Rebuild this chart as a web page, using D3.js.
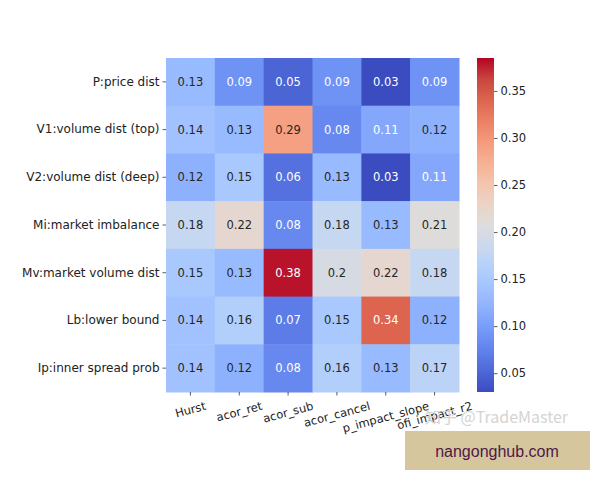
<!DOCTYPE html>
<html>
<head>
<meta charset="utf-8">
<script src="https://cdn.jsdelivr.net/npm/d3@7"></script>
<style>
  body { margin: 0; background: #fff; }
  svg { display: block; font-family: "DejaVu Sans", sans-serif; }
</style>
</head>
<body>
<svg id="chart" width="600" height="480"></svg>
<script>
// row / column labels
var rowLabels = ["P:price dist", "V1:volume dist (top)", "V2:volume dist (deep)",
    "Mi:market imbalance", "Mv:market volume dist", "Lb:lower bound", "Ip:inner spread prob"];
var colLabels = ["Hurst", "acor_ret", "acor_sub", "acor_cancel", "p_impact_slope", "ofi_impact_r2"];

// one array per row
var pVals  = [0.13, 0.09, 0.05, 0.09, 0.03, 0.09];
var v1Vals = [0.14, 0.13, 0.29, 0.08, 0.11, 0.12];
var v2Vals = [0.12, 0.15, 0.06, 0.13, 0.03, 0.11];
var miVals = [0.18, 0.22, 0.08, 0.18, 0.13, 0.21];
var mvVals = [0.15, 0.13, 0.38, 0.2, 0.22, 0.18];
var lbVals = [0.14, 0.16, 0.07, 0.15, 0.34, 0.12];
var ipVals = [0.14, 0.12, 0.08, 0.16, 0.13, 0.17];
var rowValues = [pVals, v1Vals, v2Vals, miVals, mvVals, lbVals, ipVals];

// colorbar limits and ticks
var vmin = 0.03, vmax = 0.385;
var cbTicks = [0.05, 0.10, 0.15, 0.20, 0.25, 0.30, 0.35];

// matplotlib coolwarm approximation
var coolwarmStops = [
    [0.230, 0.299, 0.754], [0.303, 0.406, 0.846], [0.379, 0.508, 0.922],
    [0.458, 0.602, 0.977], [0.554, 0.690, 0.996], [0.636, 0.764, 0.999],
    [0.706, 0.818, 0.980], [0.794, 0.852, 0.934], [0.865, 0.865, 0.865],
    [0.924, 0.828, 0.772], [0.958, 0.769, 0.678], [0.969, 0.692, 0.577],
    [0.958, 0.602, 0.481], [0.923, 0.502, 0.393], [0.866, 0.393, 0.313],
    [0.788, 0.276, 0.238], [0.706, 0.016, 0.150]
].map(function(c) { return d3.rgb(c[0] * 255, c[1] * 255, c[2] * 255); });

var cmap = d3.scaleLinear()
    .domain(coolwarmStops.map(function(d, i) { return i / (coolwarmStops.length - 1); }))
    .range(coolwarmStops)
    .interpolate(d3.interpolateRgb)
    .clamp(true);

var norm = d3.scaleLinear().domain([vmin, vmax]).range([0, 1]).clamp(true);
function colorOf(v) { return cmap(norm(v)); }

function luminance(c) {
    c = d3.rgb(c);
    var ch = [c.r, c.g, c.b].map(function(x) {
        x = x / 255;
        return x <= 0.03928 ? x / 12.92 : Math.pow((x + 0.055) / 1.055, 2.4);
    });
    return 0.2126 * ch[0] + 0.7152 * ch[1] + 0.0722 * ch[2];
}

var fontSize = 11.5;
var font = "DejaVu Sans, sans-serif";
var plotLeft = 166, plotRight = 459, plotTop = 58, plotBottom = 392;

var svg = d3.select("#chart");

var x = d3.scaleBand().domain(colLabels).range([plotLeft, plotRight]);
var y = d3.scaleBand().domain(rowLabels).range([plotTop, plotBottom]);

var cells = [];
rowLabels.forEach(function(r, i) {
    colLabels.forEach(function(c, j) {
        cells.push({ row: r, col: c, value: rowValues[i][j] });
    });
});

var fmt = d3.format(".2~g");

var g = svg.append("g");
g.selectAll("rect.cell")
    .data(cells)
    .enter()
    .append("rect")
    .attr("class", "cell")
    .attr("x", function(d) { return x(d.col); })
    .attr("y", function(d) { return y(d.row); })
    .attr("width", x.bandwidth() + 0.5)
    .attr("height", y.bandwidth() + 0.5)
    .attr("fill", function(d) { return colorOf(d.value); });

g.selectAll("text.annot")
    .data(cells)
    .enter()
    .append("text")
    .attr("class", "annot")
    .attr("x", function(d) { return x(d.col) + x.bandwidth() / 2; })
    .attr("y", function(d) { return y(d.row) + y.bandwidth() / 2; })
    .attr("dy", "0.35em")
    .attr("text-anchor", "middle")
    .style("font-family", font)
    .style("font-size", fontSize + "px")
    .attr("fill", function(d) { return luminance(colorOf(d.value)) > 0.408 ? "#262626" : "#ffffff"; })
    .text(function(d) { return fmt(d.value); });

// y axis
var gy = svg.append("g")
    .attr("transform", "translate(" + plotLeft + ",0)")
    .call(d3.axisLeft(y).tickSize(3.5).tickPadding(3));
gy.select(".domain").remove();
gy.selectAll("text").style("font-family", font).style("font-size", "12px").attr("fill", "#222");
gy.selectAll("line").attr("stroke", "#333").attr("stroke-width", 0.8);

// x axis, labels rotated 15deg, centred on tick
var gx = svg.append("g")
    .attr("transform", "translate(0," + plotBottom + ")")
    .call(d3.axisBottom(x).tickSize(3.5));
gx.select(".domain").remove();
gx.selectAll("line").attr("stroke", "#333").attr("stroke-width", 0.8);
gx.selectAll("text")
    .style("font-family", font)
    .style("font-size", fontSize + "px")
    .attr("fill", "#222")
    .attr("text-anchor", "middle")
    .attr("dy", "0.35em")
    .attr("y", 0)
    .attr("transform", function() {
        var w = this.getComputedTextLength();
        var a = 15 * Math.PI / 180;
        var h = w * Math.sin(a) + fontSize * Math.cos(a);
        return "translate(0," + (8 + h / 2) + ") rotate(-15)";
    });

// colorbar
var cbLeft = 477, cbWidth = 17;
var defs = svg.append("defs");
var grad = defs.append("linearGradient")
    .attr("id", "cbgrad")
    .attr("x1", 0).attr("y1", 1).attr("x2", 0).attr("y2", 0);
grad.selectAll("stop")
    .data(coolwarmStops)
    .enter()
    .append("stop")
    .attr("offset", function(d, i) { return i / (coolwarmStops.length - 1); })
    .attr("stop-color", function(d) { return d; });

svg.append("rect")
    .attr("x", cbLeft)
    .attr("y", plotTop)
    .attr("width", cbWidth)
    .attr("height", plotBottom - plotTop)
    .attr("fill", "url(#cbgrad)");

var cbScale = d3.scaleLinear().domain([vmin, vmax]).range([plotBottom, plotTop]);
var gcb = svg.append("g")
    .attr("transform", "translate(" + (cbLeft + cbWidth) + ",0)")
    .call(d3.axisRight(cbScale).tickValues(cbTicks).tickFormat(d3.format(".2f")).tickSize(3.5).tickPadding(3));
gcb.select(".domain").remove();
gcb.selectAll("text").style("font-family", font).style("font-size", fontSize + "px").attr("fill", "#222");
gcb.selectAll("line").attr("stroke", "#333").attr("stroke-width", 0.8);

// watermark
svg.append("text")
    .attr("x", 568)
    .attr("y", 423)
    .attr("text-anchor", "end")
    .style("font-family", "'Noto Sans CJK SC', 'DejaVu Sans', sans-serif")
    .style("font-size", "16px")
    .attr("fill", "#d4d4d4")
    .text("知乎 @TradeMaster");

// site badge
svg.append("rect")
    .attr("x", 405)
    .attr("y", 431)
    .attr("width", 185)
    .attr("height", 39)
    .attr("fill", "#d6c69d");
svg.append("text")
    .attr("x", 497)
    .attr("y", 451)
    .attr("dy", "0.35em")
    .attr("text-anchor", "middle")
    .style("font-family", "'Liberation Sans', Arial, sans-serif")
    .style("font-size", "16px")
    .attr("fill", "#4e1848")
    .text("nangonghub.com");
</script>
</body>
</html>
